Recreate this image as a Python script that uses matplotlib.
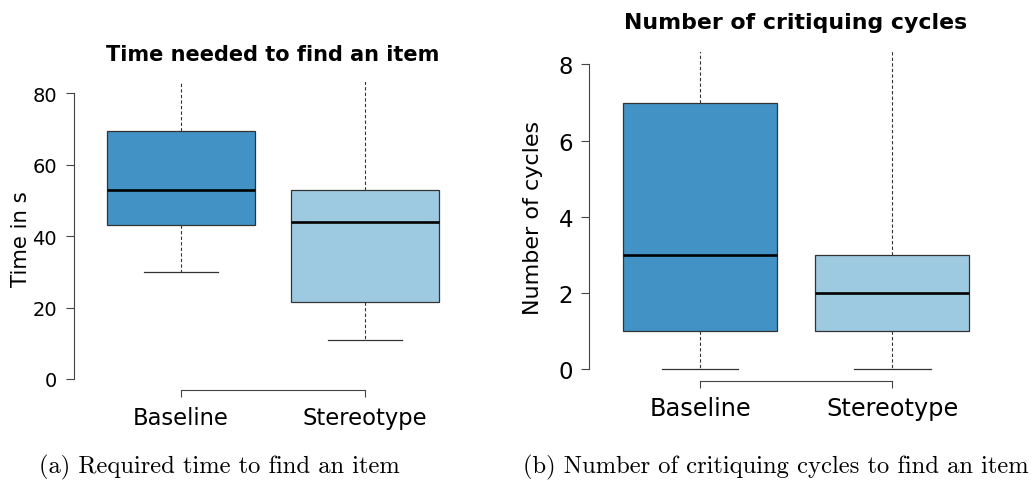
import numpy as np
import matplotlib
matplotlib.use('Agg')
import matplotlib.pyplot as plt

# values
groups = ['Baseline', 'Stereotype']
colors = ['#4292C6', '#9ECAE1']

time_q1 = [43.0, 21.5]
time_med = [53.0, 44.0]
time_q3 = [69.5, 53.0]
time_lo = [30.0, 11.0]
time_hi = [90.0, 90.0]   # upper whiskers run past the top of the plot

cyc_q1 = [1.0, 1.0]
cyc_med = [3.0, 2.0]
cyc_q3 = [7.0, 3.0]
cyc_lo = [0.0, 0.0]
cyc_hi = [10.0, 10.0]    # clipped as well


def make_stats(q1, med, q3, lo, hi):
    return [dict(q1=a, med=b, q3=c, whislo=d, whishi=e, fliers=[], label=g)
            for a, b, c, d, e, g in zip(q1, med, q3, lo, hi, groups)]


def rbox(ax, stats, ymax, ticks, tick_fs, tick_pad, lab_fs, ylabel, ylab_fs, pad_x):
    bp = ax.bxp(stats, positions=[1, 2], widths=0.8, capwidths=0.4,
                patch_artist=True, showfliers=False,
                boxprops=dict(edgecolor='#333333', linewidth=0.9),
                medianprops=dict(color='black', linewidth=1.9),
                whiskerprops=dict(color='#333333', linewidth=0.8, linestyle=(0, (3, 2))),
                capprops=dict(color='#333333', linewidth=0.9))
    for patch, c in zip(bp['boxes'], colors):
        patch.set_facecolor(c)
    ax.set_xlim(0.42, 2.58)
    ax.set_ylim(-0.04 * ymax, 1.04 * ymax)
    for s in ['top', 'right']:
        ax.spines[s].set_visible(False)
    ax.spines['left'].set_bounds(0, ymax)
    ax.spines['bottom'].set_bounds(1, 2)
    for s in ['left', 'bottom']:
        ax.spines[s].set_color('#444444')
        ax.spines[s].set_linewidth(0.8)
    ax.set_yticks(ticks)
    ax.set_xticks([1, 2])
    ax.set_xticklabels(groups)
    ax.tick_params(axis='y', length=5.5, width=0.8, color='#444444',
                   labelsize=tick_fs, pad=tick_pad)
    ax.tick_params(axis='x', length=5, width=0.8, color='#444444',
                   labelsize=lab_fs, pad=pad_x)
    ax.set_ylabel(ylabel, fontsize=ylab_fs)


fig = plt.figure(figsize=(10.34, 4.85), dpi=100)
W, H = 1034, 485

ax1 = fig.add_axes([74.3 / W, (H - 391.4) / H, 397.4 / W, 308.4 / H])
rbox(ax1, make_stats(time_q1, time_med, time_q3, time_lo, time_hi),
     80, [0, 20, 40, 60, 80], 14.0, 7.0, 16.3, 'Time in s', 15.3, 6.5)
ax1.yaxis.set_label_coords(-0.108, 0.494)

ax2 = fig.add_axes([588.5 / W, (H - 382.2) / H, 415.3 / W, 328.9 / H])
rbox(ax2, make_stats(cyc_q1, cyc_med, cyc_q3, cyc_lo, cyc_hi),
     8, [0, 2, 4, 6, 8], 16.5, 5.5, 17.3, 'Number of cycles', 16.0, 5.5)
ax2.yaxis.set_label_coords(-0.109, 0.5)

fig.text(273 / W, 1 - 55 / H, 'Time needed to find an item', ha='center', va='center',
         fontsize=15, fontweight='bold')
fig.text(796 / W, 1 - 23 / H, 'Number of critiquing cycles', ha='center', va='center',
         fontsize=15.8, fontweight='bold')

fig.text(219 / W, 1 - 467 / H, '(a) Required time to find an item', ha='center',
         va='center', fontsize=17.7, family='cmr10')
fig.text(776 / W, 1 - 467 / H, '(b) Number of critiquing cycles to find an item',
         ha='center', va='center', fontsize=17.7, family='cmr10')

fig.savefig('out.png', dpi=100)
